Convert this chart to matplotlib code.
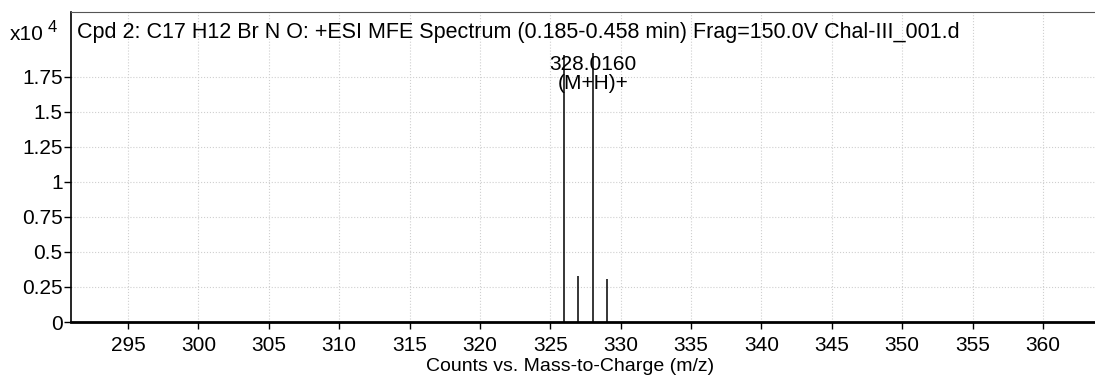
import matplotlib.pyplot as plt

# spectrum peaks (m/z, counts x10^4)
mz = [326.0, 327.0, 328.016, 329.0]
counts = [1.90, 0.33, 1.92, 0.31]
peak_label = "328.0160\n(M+H)+"

xticks = [295, 300, 305, 310, 315, 320, 325, 330, 335, 340, 345, 350, 355, 360]
yticks = [0, 0.25, 0.5, 0.75, 1, 1.25, 1.5, 1.75]
ytick_labels = ["0", "0.25", "0.5", "0.75", "1", "1.25", "1.5", "1.75"]

title = "Cpd 2: C17 H12 Br N O: +ESI MFE Spectrum (0.185-0.458 min) Frag=150.0V Chal-III_001.d"

plt.rcParams['font.family'] = ['Liberation Sans', 'DejaVu Sans']

fig = plt.figure(figsize=(10.95, 3.78), dpi=100)
ax = fig.add_axes([71 / 1095, 1 - 322 / 378, 1 - 71 / 1095, 310 / 378])

ax.vlines(mz, 0, counts, color="black", linewidth=1.1)

ax.set_xlim(290.95, 363.7)
ax.set_ylim(0, 2.21)
ax.set_xticks(xticks)
ax.set_yticks(yticks)
ax.set_yticklabels(ytick_labels)
ax.tick_params(axis="both", direction="out", length=5, width=1, labelsize=15, pad=1)
ax.tick_params(axis="x", pad=5)

ax.grid(True, linestyle=":", color="#cfcfcf", linewidth=0.8)
ax.set_axisbelow(True)

ax.spines['right'].set_visible(False)
ax.spines['top'].set_color("#555555")
ax.spines['bottom'].set_linewidth(2)
ax.spines['left'].set_linewidth(1.2)

ax.text(0.006, 0.935, title, transform=ax.transAxes, fontsize=15.5,
        ha="left", va="center")
ax.annotate(peak_label, (mz[2], counts[2]), xytext=(0, -2), textcoords="offset points",
            ha="center", va="top", fontsize=15, linespacing=1.0)

fig.text(10 / 1095, 1 - 34 / 378, "x10", fontsize=15, ha="left", va="center")
fig.text(48 / 1095, 1 - 28 / 378, "4", fontsize=12, ha="left", va="center")

ax.set_xlabel("Counts vs. Mass-to-Charge (m/z)", fontsize=14, labelpad=-2)
ax.xaxis.set_label_coords(0.487, -0.115)

fig.savefig("out.png", dpi=100)
